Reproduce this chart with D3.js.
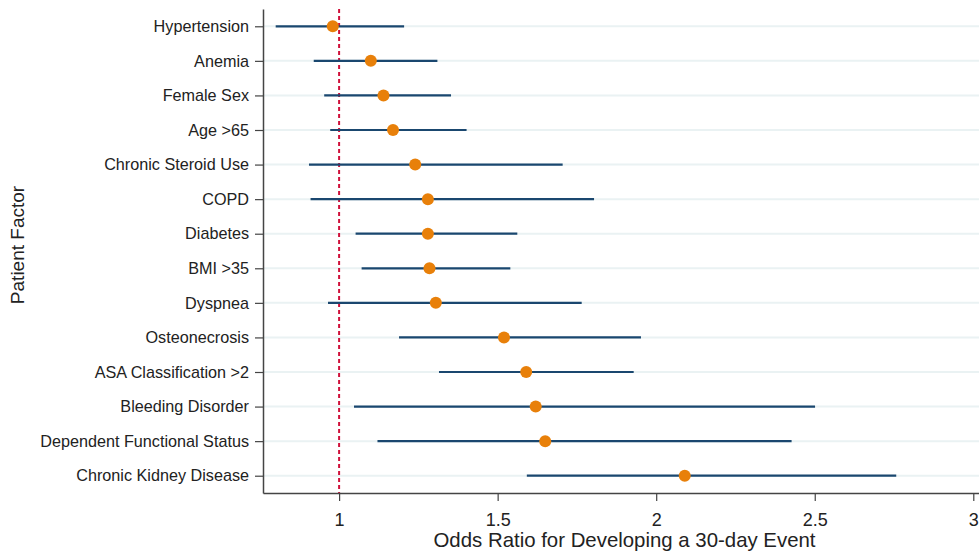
<!DOCTYPE html>
<html>
<head>
<meta charset="utf-8">
<script src="https://cdn.jsdelivr.net/npm/d3@7"></script>
<style>
    body { margin: 0; background: #fff; }
    text { font-family: "Liberation Sans", Arial, sans-serif; fill: #222; }
</style>
</head>
<body>
<div id="chart"></div>
<script>
// Patient factors, top to bottom
const factors = [
    "Hypertension", "Anemia", "Female Sex", "Age >65", "Chronic Steroid Use",
    "COPD", "Diabetes", "BMI >35", "Dyspnea", "Osteonecrosis",
    "ASA Classification >2", "Bleeding Disorder", "Dependent Functional Status",
    "Chronic Kidney Disease"
];
// Odds ratios and 95% CI bounds
const oddsRatio = [0.98, 1.10, 1.14, 1.17, 1.24, 1.28, 1.28, 1.285, 1.305, 1.52, 1.59, 1.62, 1.65, 2.09];
const ciLow     = [0.80, 0.92, 0.953, 0.972, 0.905, 0.91, 1.052, 1.071, 0.965, 1.189, 1.315, 1.047, 1.121, 1.592];
const ciHigh    = [1.205, 1.31, 1.353, 1.402, 1.705, 1.804, 1.562, 1.54, 1.765, 1.952, 1.929, 2.501, 2.427, 2.757];
const xTicks = [1, 1.5, 2, 2.5, 3];

const width = 979;
const height = 553;
const margin = { top: 9, right: 0, bottom: 60, left: 263 };

const svg = d3.select("#chart").append("svg")
    .attr("width", width)
    .attr("height", height);

const x = d3.scaleLinear()
    .domain([0.76, 3.018])
    .range([margin.left, width - margin.right]);

const y = d3.scalePoint()
    .domain(factors)
    .range([margin.top, height - margin.bottom])
    .padding(0.5);

const data = factors.map((f, i) => ({ name: f, or: oddsRatio[i], lo: ciLow[i], hi: ciHigh[i] }));

// light horizontal grid lines
svg.append("g").selectAll("line")
    .data(factors)
    .enter().append("line")
    .attr("x1", margin.left)
    .attr("x2", width)
    .attr("y1", d => y(d))
    .attr("y2", d => y(d))
    .attr("stroke", "#eaf2f3")
    .attr("stroke-width", 2);

// reference line at OR = 1
svg.append("line")
    .attr("x1", x(1))
    .attr("x2", x(1))
    .attr("y1", margin.top)
    .attr("y2", height - margin.bottom)
    .attr("stroke", "#d0103a")
    .attr("stroke-width", 2)
    .attr("stroke-dasharray", "4,3");

// confidence intervals
svg.append("g").selectAll("line")
    .data(data)
    .enter().append("line")
    .attr("x1", d => x(d.lo))
    .attr("x2", d => x(d.hi))
    .attr("y1", d => y(d.name))
    .attr("y2", d => y(d.name))
    .attr("stroke", "#1a476f")
    .attr("stroke-width", 2.2);

// point estimates
svg.append("g").selectAll("circle")
    .data(data)
    .enter().append("circle")
    .attr("cx", d => x(d.or))
    .attr("cy", d => y(d.name))
    .attr("r", 6)
    .attr("fill", "#e8800a");

// axes
const xAxis = svg.append("g")
    .attr("transform", `translate(0,${height - margin.bottom})`)
    .call(d3.axisBottom(x).tickValues(xTicks).tickFormat(d3.format("")).tickSize(8).tickSizeOuter(0).tickPadding(12));

const yAxis = svg.append("g")
    .attr("transform", `translate(${margin.left},0)`)
    .call(d3.axisLeft(y).tickSize(8).tickSizeOuter(0).tickPadding(6));

[xAxis, yAxis].forEach(g => {
    g.select(".domain").attr("stroke", "#444").attr("stroke-width", 1.5);
    g.selectAll(".tick line").attr("stroke", "#444").attr("stroke-width", 1.2);
    g.selectAll(".tick text").attr("fill", "#222")
        .attr("font-family", "Liberation Sans, Arial, sans-serif");
});
yAxis.selectAll(".tick text").attr("font-size", 16.2);
xAxis.selectAll(".tick text").attr("font-size", 18);

// axis titles
svg.append("text")
    .attr("x", 624.5)
    .attr("y", 547)
    .attr("text-anchor", "middle")
    .attr("font-size", 20.4)
    .text("Odds Ratio for Developing a 30-day Event");

svg.append("text")
    .attr("transform", "translate(24,245) rotate(-90)")
    .attr("text-anchor", "middle")
    .attr("font-size", 19)
    .text("Patient Factor");
</script>
</body>
</html>
